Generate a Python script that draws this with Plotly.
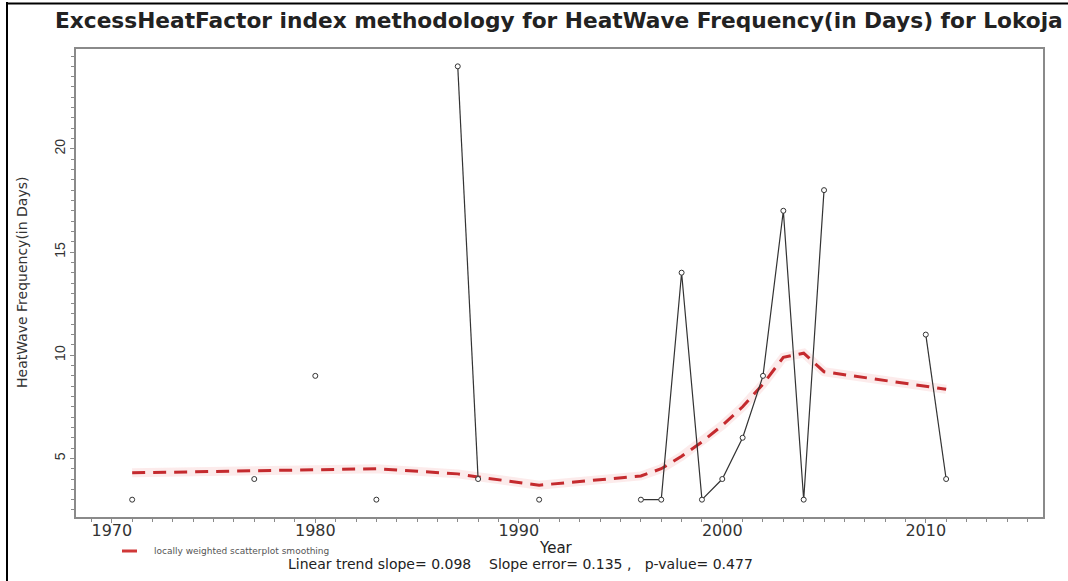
import plotly.graph_objects as go

# Heatwave frequency per year (None = no heatwave recorded that year)
years = list(range(1971, 2012))
freq_by_year = {1971: 3, 1977: 4, 1980: 9, 1983: 3, 1987: 24, 1988: 4, 1991: 3,
                1996: 3, 1997: 3, 1998: 14, 1999: 3, 2000: 4, 2001: 6, 2002: 9,
                2003: 17, 2004: 3, 2005: 18, 2010: 11, 2011: 4}
frequency = [freq_by_year.get(y) for y in years]

# Lowess smooth evaluated at the observed years
smooth_years = [1971, 1977, 1980, 1983, 1987, 1988, 1991, 1996, 1997, 1998,
                1999, 2000, 2001, 2002, 2003, 2004, 2005, 2010, 2011]
smooth_values = [4.3, 4.4, 4.45, 4.5, 4.25, 4.1, 3.7, 4.15, 4.5, 5.1,
                 5.8, 6.6, 7.5, 8.6, 9.9, 10.1, 9.2, 8.5, 8.35]

x_ticks = [1970, 1980, 1990, 2000, 2010]
y_ticks = [5, 10, 15, 20]

title_text = "ExcessHeatFactor index methodology for HeatWave Frequency(in Days) for Lokoja"
y_title = "HeatWave Frequency(in Days)"
legend_text = "locally weighted scatterplot smoothing"
stats_text = ("Linear trend slope= 0.098\u00a0\u00a0\u00a0\u00a0Slope error= 0.135 ,"
              "\u00a0\u00a0\u00a0p-value= 0.477")

W, H = 1068, 581
L, R, T, B = 76, 25, 49, 64
pw, ph = W - L - R, H - T - B


def px(x):
    return (x - L) / pw


def py(y):
    return 1 - (y - T) / ph


fig = go.Figure()

# smoothing curve with a soft halo
fig.add_trace(go.Scatter(x=smooth_years, y=smooth_values, mode="lines",
                         line=dict(color="rgba(235,130,130,0.16)", width=9),
                         hoverinfo="skip", showlegend=False))
fig.add_trace(go.Scatter(x=smooth_years, y=smooth_values, mode="lines",
                         line=dict(color="#c42a2e", width=3, dash="13px,8px"),
                         showlegend=False))

# yearly frequency, broken where no heatwave occurred
fig.add_trace(go.Scatter(x=years, y=frequency, mode="lines+markers",
                         connectgaps=False,
                         line=dict(color="#333333", width=1.2),
                         marker=dict(symbol="circle", size=5, color="white",
                                     line=dict(color="#333333", width=1)),
                         showlegend=False))

axis_grey = "#8a8a8a"
fig.update_xaxes(range=[1968.24, 2015.76], tickvals=x_ticks,
                 ticks="outside", ticklen=4, tickcolor=axis_grey, tickwidth=1,
                 ticklabelstandoff=-6,
                 minor=dict(dtick=1, tick0=1970, ticks="outside", ticklen=3,
                            tickcolor=axis_grey, tickwidth=1),
                 showline=True, linecolor=axis_grey, linewidth=1.5, mirror=True,
                 showgrid=False, zeroline=False,
                 tickfont=dict(family="DejaVu Sans", size=16, color="#333333"))
fig.update_yaxes(range=[2.16, 24.84], tickvals=y_ticks, tickangle=-90,
                 ticks="outside", ticklen=4, tickcolor=axis_grey, tickwidth=1,
                 minor=dict(dtick=0.5, tick0=0, ticks="outside", ticklen=3,
                            tickcolor=axis_grey, tickwidth=1),
                 showline=True, linecolor=axis_grey, linewidth=1.5, mirror=True,
                 showgrid=False, zeroline=False,
                 tickfont=dict(family="Liberation Sans", size=14, color="#333333"))

annotations = [
    dict(text="<b>" + title_text + "</b>", xref="paper", yref="paper",
         x=px(559), y=py(20), xanchor="center", yanchor="middle", showarrow=False,
         font=dict(family="DejaVu Sans", size=21.7, color="#222222")),
    dict(text=y_title, xref="paper", yref="paper", x=px(22), y=py(283),
         xanchor="center", yanchor="middle", textangle=-90, showarrow=False,
         font=dict(family="DejaVu Sans", size=14, color="#333333")),
    dict(text="Year", xref="paper", yref="paper", x=px(556), y=py(548),
         xanchor="center", yanchor="middle", showarrow=False,
         font=dict(family="DejaVu Sans", size=15, color="#222222")),
    dict(text=stats_text, xref="paper", yref="paper", x=px(520), y=py(564),
         xanchor="center", yanchor="middle", showarrow=False,
         font=dict(family="DejaVu Sans", size=14, color="#222222")),
    dict(text=legend_text, xref="paper", yref="paper", x=px(152), y=py(551),
         xanchor="left", yanchor="middle", showarrow=False,
         font=dict(family="DejaVu Sans", size=9, color="#555555")),
]

shapes = [
    # legend key
    dict(type="line", xref="paper", yref="paper", x0=px(122), x1=px(137),
         y0=py(551), y1=py(551), line=dict(color="#d03838", width=3)),
    # outer frame (left and top edges)
    dict(type="line", xref="paper", yref="paper", x0=px(7), x1=px(7),
         y0=py(2), y1=py(H + 2), line=dict(color="black", width=2)),
    dict(type="line", xref="paper", yref="paper", x0=px(6), x1=px(W + 2),
         y0=py(3.5), y1=py(3.5), line=dict(color="black", width=2)),
]

fig.update_layout(width=W, height=H, margin=dict(l=L, r=R, t=T, b=B),
                  paper_bgcolor="white", plot_bgcolor="white",
                  annotations=annotations, shapes=shapes, showlegend=False)

fig.write_html("out.html")
